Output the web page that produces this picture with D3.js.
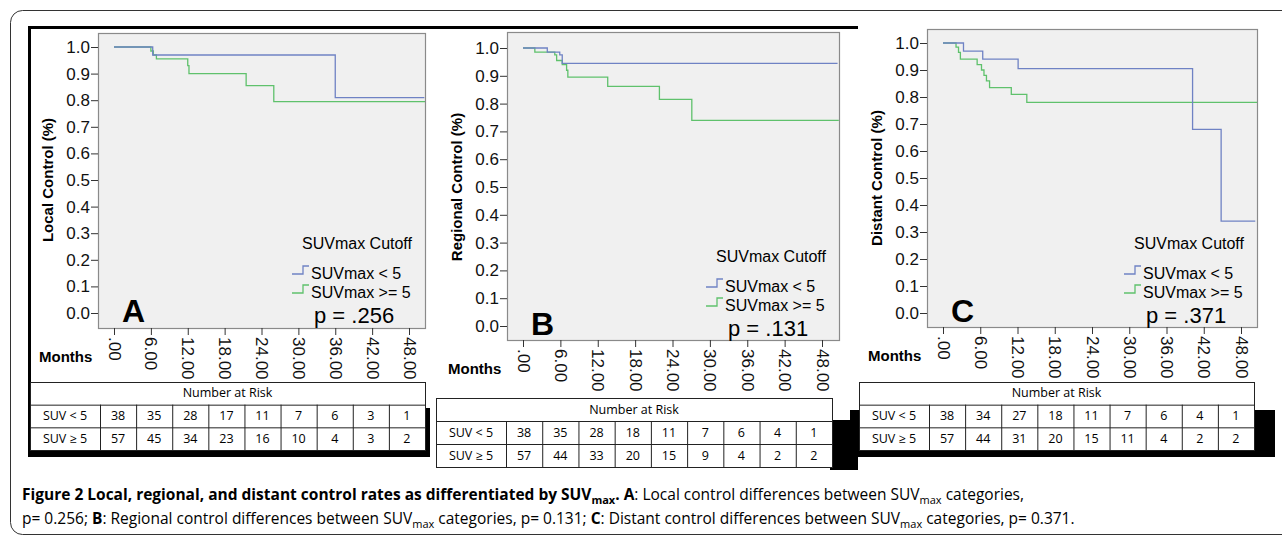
<!DOCTYPE html>
<html><head><meta charset="utf-8">
<script src="https://d3js.org/d3.v7.min.js"></script>
<style>body{margin:0;background:#fff}svg{display:block}</style>
</head><body>
<svg id="c" width="1282" height="543"></svg>
<script>
// Kaplan-Meier steps [month, survival]
const localLow  = [[0,1],[6.3,0.97],[36,0.81],[50.5,0.81]];
const localHigh = [[0,1],[6.0,0.985],[6.4,0.97],[6.9,0.955],[12,0.93],[12.2,0.90],[21.5,0.855],[26,0.795],[50.6,0.795]];
const regLow    = [[0,1],[3.9,0.985],[5.9,0.975],[6.3,0.945],[50.5,0.945]];
const regHigh   = [[0,1],[1.9,0.985],[5.1,0.975],[5.4,0.955],[6.3,0.94],[7.0,0.92],[7.2,0.895],[13.6,0.862],[21.9,0.815],[27.1,0.74],[50.7,0.74]];
const distLow   = [[0,1],[3.3,0.97],[6.4,0.94],[12.1,0.905],[40.2,0.68],[44.8,0.34],[50.3,0.34]];
const distHigh  = [[0,1],[2.1,0.985],[2.5,0.965],[2.8,0.94],[5.5,0.92],[6.2,0.90],[6.6,0.88],[7.0,0.86],[7.5,0.835],[11,0.81],[13.5,0.78],[50.6,0.78]];
const xTicks = [0,6,12,18,24,30,36,42,48];
const yTicks = [0,0.1,0.2,0.3,0.4,0.5,0.6,0.7,0.8,0.9,1.0];
const riskLowA = [38,35,28,17,11,7,6,3,1], riskHighA = [57,45,34,23,16,10,4,3,2];
const riskLowB = [38,35,28,18,11,7,6,4,1], riskHighB = [57,44,33,20,15,9,4,2,2];
const riskLowC = [38,34,27,18,11,7,6,4,1], riskHighC = [57,44,31,20,15,11,4,2,2];
const pValues = [".256",".131",".371"];
const yTitles = ["Local Control (%)","Regional Control (%)","Distant Control (%)"];
const letters = ["A","B","C"];

const svg = d3.select("#c");
const BLUE = "#6f82c4", GREEN = "#5fc16c";
const AR = "'Liberation Sans', Arial, sans-serif";

// frame
svg.append("rect").attr("x",10.5).attr("y",10.5).attr("width",1290).attr("height",524).attr("rx",12).attr("fill","none").attr("stroke","#333");
svg.append("rect").attr("x",29).attr("y",26).attr("width",829).attr("height",3).attr("fill","#000");
svg.append("rect").attr("x",28).attr("y",26).attr("width",3).attr("height",431).attr("fill","#000");
svg.append("rect").attr("x",29).attr("y",450).attr("width",401).attr("height",7).attr("fill","#000");
svg.append("rect").attr("x",424).attr("y",408).attr("width",6).attr("height",49).attr("fill","#000");
svg.append("rect").attr("x",830).attr("y",420).attr("width",28).attr("height",50).attr("fill","#000");
svg.append("rect").attr("x",850).attr("y",410).attr("width",425).attr("height",47).attr("fill","#000");

const panels = [
  {box:[98,33,425,328], x0:114, x1:409, y1:47, y0:313, low:localLow, high:localHigh, tbl:[30,382,425,450], risk:[riskLowA,riskHighA]},
  {box:[507,32,839,340], x0:523, x1:822, y1:48, y0:326, low:regLow, high:regHigh, tbl:[436,398,832,467], risk:[riskLowB,riskHighB]},
  {box:[927,29,1257,327], x0:943, x1:1241, y1:43, y0:313, low:distLow, high:distHigh, tbl:[859,382,1254,450], risk:[riskLowC,riskHighC]}
];

panels.forEach((p,i) => {
  const [bx0,by0,bx1,by1] = p.box;
  const x = d3.scaleLinear().domain([0,48]).range([p.x0,p.x1]);
  const y = d3.scaleLinear().domain([0,1]).range([p.y0,p.y1]);
  const g = svg.append("g");
  g.append("rect").attr("x",bx0+0.5).attr("y",by0+0.5).attr("width",bx1-bx0).attr("height",by1-by0)
    .attr("fill","#f0f0f0").attr("stroke","#8a8a8a").attr("stroke-width",1.2);

  const line = d3.line().x(d=>x(d[0])).y(d=>y(d[1])).curve(d3.curveStepAfter);
  g.append("path").datum(p.high).attr("d",line).attr("fill","none").attr("stroke",GREEN).attr("stroke-width",1.3);
  g.append("path").datum(p.low).attr("d",line).attr("fill","none").attr("stroke",BLUE).attr("stroke-width",1.3);

  // y axis
  const ya = g.append("g").attr("transform",`translate(${bx0},0)`)
    .call(d3.axisLeft(y).tickValues(yTicks).tickFormat(d3.format(".1f")).tickSize(7).tickPadding(1));
  ya.select(".domain").remove();
  ya.selectAll("line").attr("stroke","#333");
  ya.selectAll("text").attr("font-family",AR).attr("font-size",17).attr("fill","#111");

  // x axis
  const xa = g.append("g").attr("transform",`translate(0,${by1})`)
    .call(d3.axisBottom(x).tickValues(xTicks).tickFormat(d=>d===0?".00":d3.format(".2f")(d)).tickSize(7).tickPadding(3));
  xa.select(".domain").remove();
  xa.selectAll("line").attr("stroke","#333");
  xa.selectAll("text").attr("font-family",AR).attr("font-size",17).attr("fill","#111")
    .attr("transform","rotate(90)").attr("text-anchor","start").attr("dy","0.35em").attr("x",9).attr("y",0);

  // titles
  g.append("text").attr("transform",`translate(${bx0-45},${(p.y0+p.y1)/2}) rotate(-90)`).attr("text-anchor","middle")
    .attr("font-family",AR).attr("font-weight","bold").attr("font-size",15).text(yTitles[i]);
  g.append("text").attr("x",bx0-59).attr("y",by1+34).attr("font-family",AR)
    .attr("font-weight","bold").attr("font-size",15).text("Months");
  g.append("text").attr("x",bx0+24).attr("y",p.y0+9).attr("font-family",AR)
    .attr("font-weight","bold").attr("font-size",32).text(letters[i]);

  // legend
  const lx = bx1-127, ly = p.y0-64;
  g.append("text").attr("x",lx+4).attr("y",ly).attr("font-family",AR).attr("font-size",16).text("SUVmax Cutoff");
  [[BLUE,"SUVmax < 5"],[GREEN,"SUVmax >= 5"]].forEach((e,k)=>{
    const yy = ly+28+k*19;
    g.append("path").attr("d",`M${lx-6},${yy-3}h11v-8h6`).attr("fill","none").attr("stroke",e[0]).attr("stroke-width",1.3);
    g.append("text").attr("x",lx+13).attr("y",yy+2).attr("font-family",AR).attr("font-size",16).text(e[1]);
  });
  g.append("text").attr("x",lx+16).attr("y",p.y0+10).attr("font-family",AR).attr("font-size",22)
    .text("p = " + pValues[i]);

  // risk table
  const [tx0,ty0,tx1,ty1] = p.tbl;
  const lab = 70, cw = (tx1-tx0-lab)/9, rh = (ty1-ty0)/3;
  const t = svg.append("g");
  t.append("rect").attr("x",tx0+0.5).attr("y",ty0+0.5).attr("width",tx1-tx0).attr("height",ty1-ty0).attr("fill","#fff").attr("stroke","#222");
  t.append("text").attr("x",(tx0+tx1)/2).attr("y",ty0+rh/2+4).attr("text-anchor","middle")
    .attr("font-family","Open Sans").attr("font-size",12.5).text("Number at Risk");
  ["SUV < 5","SUV \u2265 5"].forEach((s,r)=>{
    const yy = ty0+rh*(r+1);
    t.append("line").attr("x1",tx0).attr("x2",tx1).attr("y1",yy+0.5).attr("y2",yy+0.5).attr("stroke","#222");
    t.append("text").attr("x",tx0+lab/2).attr("y",yy+rh/2+4).attr("text-anchor","middle")
      .attr("font-family","Open Sans").attr("font-size",12.5).text(s);
    p.risk[r].forEach((v,c)=>{
      t.append("text").attr("x",tx0+lab+cw*(c+0.5)).attr("y",yy+rh/2+4).attr("text-anchor","middle")
        .attr("font-family","Open Sans").attr("font-size",12.5).text(v);
    });
  });
  d3.range(10).forEach(c=>{
    t.append("line").attr("x1",tx0+lab+cw*c+0.5).attr("x2",tx0+lab+cw*c+0.5).attr("y1",ty0+rh).attr("y2",ty1).attr("stroke","#222");
  });
});

// caption
const cap1 = svg.append("text").attr("x",22).attr("y",500).attr("font-family","Open Sans").attr("font-size",15.5);
cap1.append("tspan").attr("font-weight","bold").text("Figure 2 Local, regional, and distant control rates as differentiated by SUV");
cap1.append("tspan").attr("font-weight","bold").attr("font-size",11).attr("dy",4).text("max");
cap1.append("tspan").attr("font-weight","bold").attr("dy",-4).text(". A");
cap1.append("tspan").text(": Local control differences between SUV");
cap1.append("tspan").attr("font-size",11).attr("dy",4).text("max");
cap1.append("tspan").attr("dy",-4).text(" categories,");
const cap2 = svg.append("text").attr("x",22).attr("y",524).attr("font-family","Open Sans").attr("font-size",15.5);
cap2.append("tspan").text("p= 0.256; ");
cap2.append("tspan").attr("font-weight","bold").text("B");
cap2.append("tspan").text(": Regional control differences between SUV");
cap2.append("tspan").attr("font-size",11).attr("dy",4).text("max");
cap2.append("tspan").attr("dy",-4).text(" categories, p= 0.131; ");
cap2.append("tspan").attr("font-weight","bold").text("C");
cap2.append("tspan").text(": Distant control differences between SUV");
cap2.append("tspan").attr("font-size",11).attr("dy",4).text("max");
cap2.append("tspan").attr("dy",-4).text(" categories, p= 0.371.");
</script>
</body></html>
